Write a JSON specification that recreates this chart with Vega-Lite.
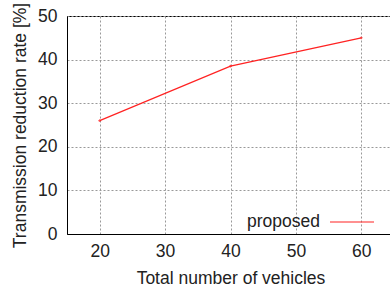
{
  "$schema": "https://vega.github.io/schema/vega-lite/v6.json",
  "autosize": {"type": "none"},
  "padding": {"left": 67, "top": 16, "right": 0, "bottom": 54},
  "width": 327,
  "height": 218,
  "background": "white",
  "config": {
    "view": {"stroke": "#000", "strokeWidth": 1},
    "font": "Liberation Sans",
    "axis": {
      "labelFont": "Liberation Sans",
      "titleFont": "Liberation Sans",
      "labelFontSize": 17.5,
      "titleFontSize": 17.5,
      "titleFontWeight": "normal",
      "labelColor": "#222",
      "titleColor": "#222",
      "domainColor": "#000",
      "ticks": false,
      "gridColor": "#999",
      "gridDash": [2, 2],
      "gridOpacity": 1,
      "gridWidth": 1
    }
  },
  "data": {
    "values": [
      {"vehicles": 20, "rate": 26.0, "method": "proposed"},
      {"vehicles": 40, "rate": 38.5, "method": "proposed"},
      {"vehicles": 60, "rate": 45.0, "method": "proposed"}
    ]
  },
  "layer": [
    {
      "mark": {"type": "line", "strokeWidth": 1.2},
      "encoding": {
        "x": {
          "field": "vehicles", "type": "quantitative",
          "scale": {"domain": [15, 65], "nice": false, "zero": false},
          "axis": {"values": [20, 30, 40, 50, 60], "labelPadding": 8, "titlePadding": 10, "title": "Total number of vehicles"}
        },
        "y": {
          "field": "rate", "type": "quantitative",
          "scale": {"domain": [0, 50], "nice": false},
          "axis": {"values": [0, 10, 20, 30, 40, 50], "labelPadding": 10, "titlePadding": 8, "title": "Transmission reduction rate [%]"}
        },
        "color": {
          "field": "method", "type": "nominal",
          "scale": {"range": ["#f22"]},
          "legend": {
            "title": null,
            "orient": "none",
            "legendX": 262,
            "legendY": 183,
            "symbolType": "stroke",
            "symbolSize": 1936,
            "symbolStrokeWidth": 1.2,
            "labelFontSize": 17.5,
            "labelFont": "Liberation Sans",
            "labelColor": "#222",
            "labelAlign": "right",
            "labelOffset": -55
          }
        }
      }
    },
    {
      "mark": {"type": "point", "shape": "cross", "size": 8, "filled": true, "color": "#f22"},
      "encoding": {
        "x": {"field": "vehicles", "type": "quantitative"},
        "y": {"field": "rate", "type": "quantitative"}
      }
    }
  ]
}
